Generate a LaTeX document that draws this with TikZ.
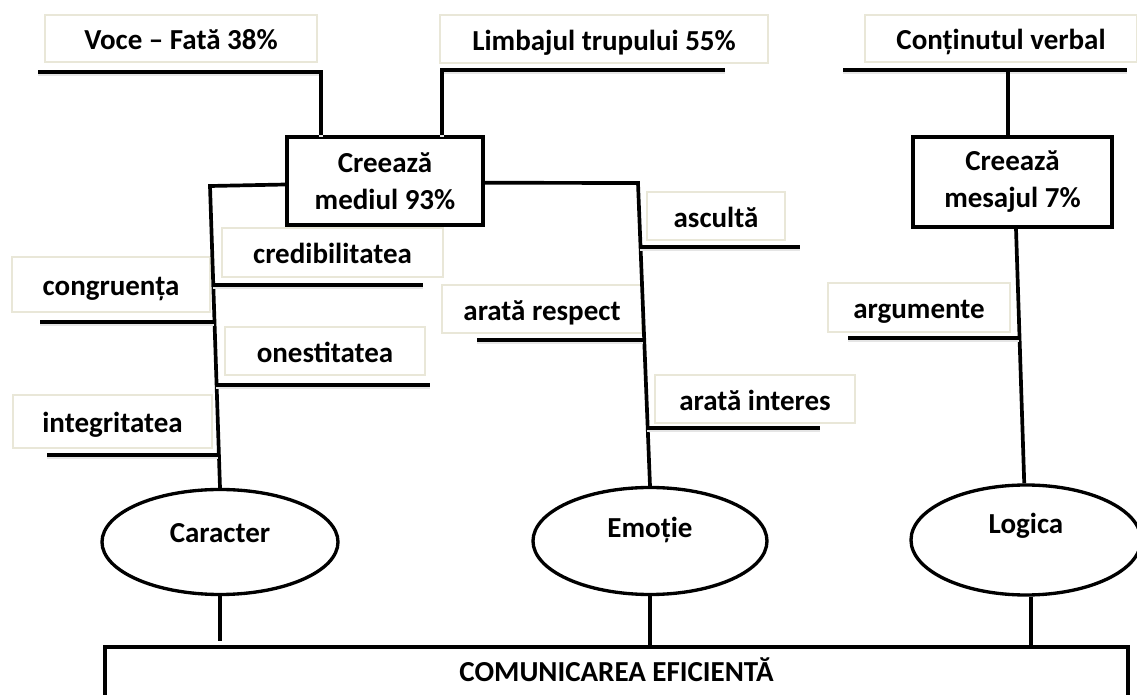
\documentclass[tikz,border=0pt]{standalone}
\usepackage{fontspec}
\setmainfont{Carlito}
\usetikzlibrary{shapes.geometric}
\newdimen\upx \upx=0.02cm
\definecolor{tagedge}{RGB}{233,231,216}
\tikzset{
  every node/.style={font=\fontsize{16.5}{21}\selectfont\bfseries},
  dims/.style 2 args={minimum width=#1\upx, minimum height=#2\upx},
  tag/.style={draw=tagedge, line width=1.3pt, fill=white, inner sep=0pt,
    text height=13pt, text depth=0pt},
  hub/.style={draw, line width=2.1pt, fill=white, align=center, inner sep=0pt},
  pillar/.style={draw, ellipse, line width=1.9pt, fill=white, inner sep=0pt},
  stem/.style={line width=2.1pt},
  leg/.style={line width=2.1pt,
    preaction={draw=black!10, line width=2.1pt, transform canvas={yshift=-1pt}}}
}
\begin{document}
\begin{tikzpicture}[x=0.02cm, y=-0.02cm]
\useasboundingbox (0,0) rectangle (1137,695);

% top row of sources
\node[tag, dims={272}{47}] (voce) at (181,38.5) {Voce – Fată 38\%};
\node[tag, dims={328}{48}] (limb) at (604,39) {Limbajul trupului 55\%};
\node[tag, dims={272}{47}] (cont) at (1001,38.5) {Conținutul verbal};

% what they create
\node[hub, dims={196}{88}] (cmed) at (385,181) {Creează\\mediul 93\%};
\node[hub, dims={199}{90}] (cmes) at (1012.5,182) {Creează\\mesajul 7\%};

% side labels
\node[tag, dims={221}{49}] (cred)  at (332.5,252.5) {credibilitatea};
\node[tag, dims={198}{55}] (cong)  at (111,284.5)   {congruența};
\node[tag, dims={200}{48}] (ones)  at (325,351)     {onestitatea};
\node[tag, dims={199}{53}] (integ) at (112.5,421.5) {integritatea};
\node[tag, dims={138}{48}] (ascu)  at (716,216)     {ascultă};
\node[tag, dims={200}{48}] (resp)  at (542,309)     {arată respect};
\node[tag, dims={200}{48}] (inter) at (755,399)     {arată interes};
\node[tag, dims={182}{49}] (argu)  at (919,307.5)   {argumente};

% the three pillars
\node[pillar, dims={236}{105},
  label={[anchor=center, yshift=5pt]center:Caracter}] (car) at (220,542) {};
\node[pillar, dims={234}{107},
  label={[anchor=center, yshift=6pt]center:Emoție}] (emo) at (650,541) {};
\node[pillar, dims={230}{110},
  label={[anchor=center, yshift=8pt]center:Logica}] (log) at (1026,540) {};

% base
\node[hub, dims={1023}{80}, anchor=north,
  label={[anchor=center, yshift=-14pt]north:COMUNICAREA EFICIENTĂ}] (comm) at (616.5,645) {};

% legs under the top labels and their drops
\coordinate (vl) at (38,72);   \coordinate (vr) at (321,72);
\coordinate (ll) at (442,70);  \coordinate (lr) at (725,70);
\coordinate (cl) at (843,70);  \coordinate (cr) at (1127,70);
\coordinate (cm) at (1008,70);
\draw[leg] (vl) -- (vr) -- (vr |- cmed.north);
\draw[leg] (lr) -- (ll) -- (ll |- cmed.north);
\draw[leg] (cl) -- (cr);
\draw[stem] (cm) -- (cm |- cmes.north);

% trunks down to the pillars
\coordinate (lk) at (210,186);
\coordinate (rk) at (638,183);
\draw[stem] ([yshift=-2pt]cmed.west) -- (lk) -- (car.north);
\draw[stem] ([yshift=-1pt]cmed.east) -- (rk) -- (emo.north);
\draw[stem] ([xshift=2pt]cmes.south) -- ([xshift=-1pt]log.north);

% legs under the side labels
\coordinate (credA) at (213,285);  \coordinate (credB) at (423,285);
\coordinate (congA) at (40,322);   \coordinate (congB) at (214,322);
\coordinate (onesA) at (216,385);  \coordinate (onesB) at (430,385);
\coordinate (intA)  at (47,455);   \coordinate (intB)  at (218,455);
\coordinate (ascA)  at (640,247);  \coordinate (ascB)  at (800,247);
\coordinate (resA)  at (477,340);  \coordinate (resB)  at (643,340);
\coordinate (itrA)  at (647,428);  \coordinate (itrB)  at (820,428);
\coordinate (argA)  at (848,338);  \coordinate (argB)  at (1019,338);
\draw[leg] (credA) -- (credB);
\draw[leg] (congA) -- (congB);
\draw[leg] (onesA) -- (onesB);
\draw[leg] (intA) -- (intB);
\draw[leg] (ascA) -- (ascB);
\draw[leg] (resA) -- (resB);
\draw[leg] (itrA) -- (itrB);
\draw[leg] (argA) -- (argB);

% pillars to the base
\draw[stem] (car.south) -- ++(0,45);
\draw[stem] (emo.south) -- (emo.south |- comm.north);
\draw[stem] ([xshift=3pt]log.south) -- ([xshift=3pt]log.south |- comm.north);
\end{tikzpicture}
\end{document}
